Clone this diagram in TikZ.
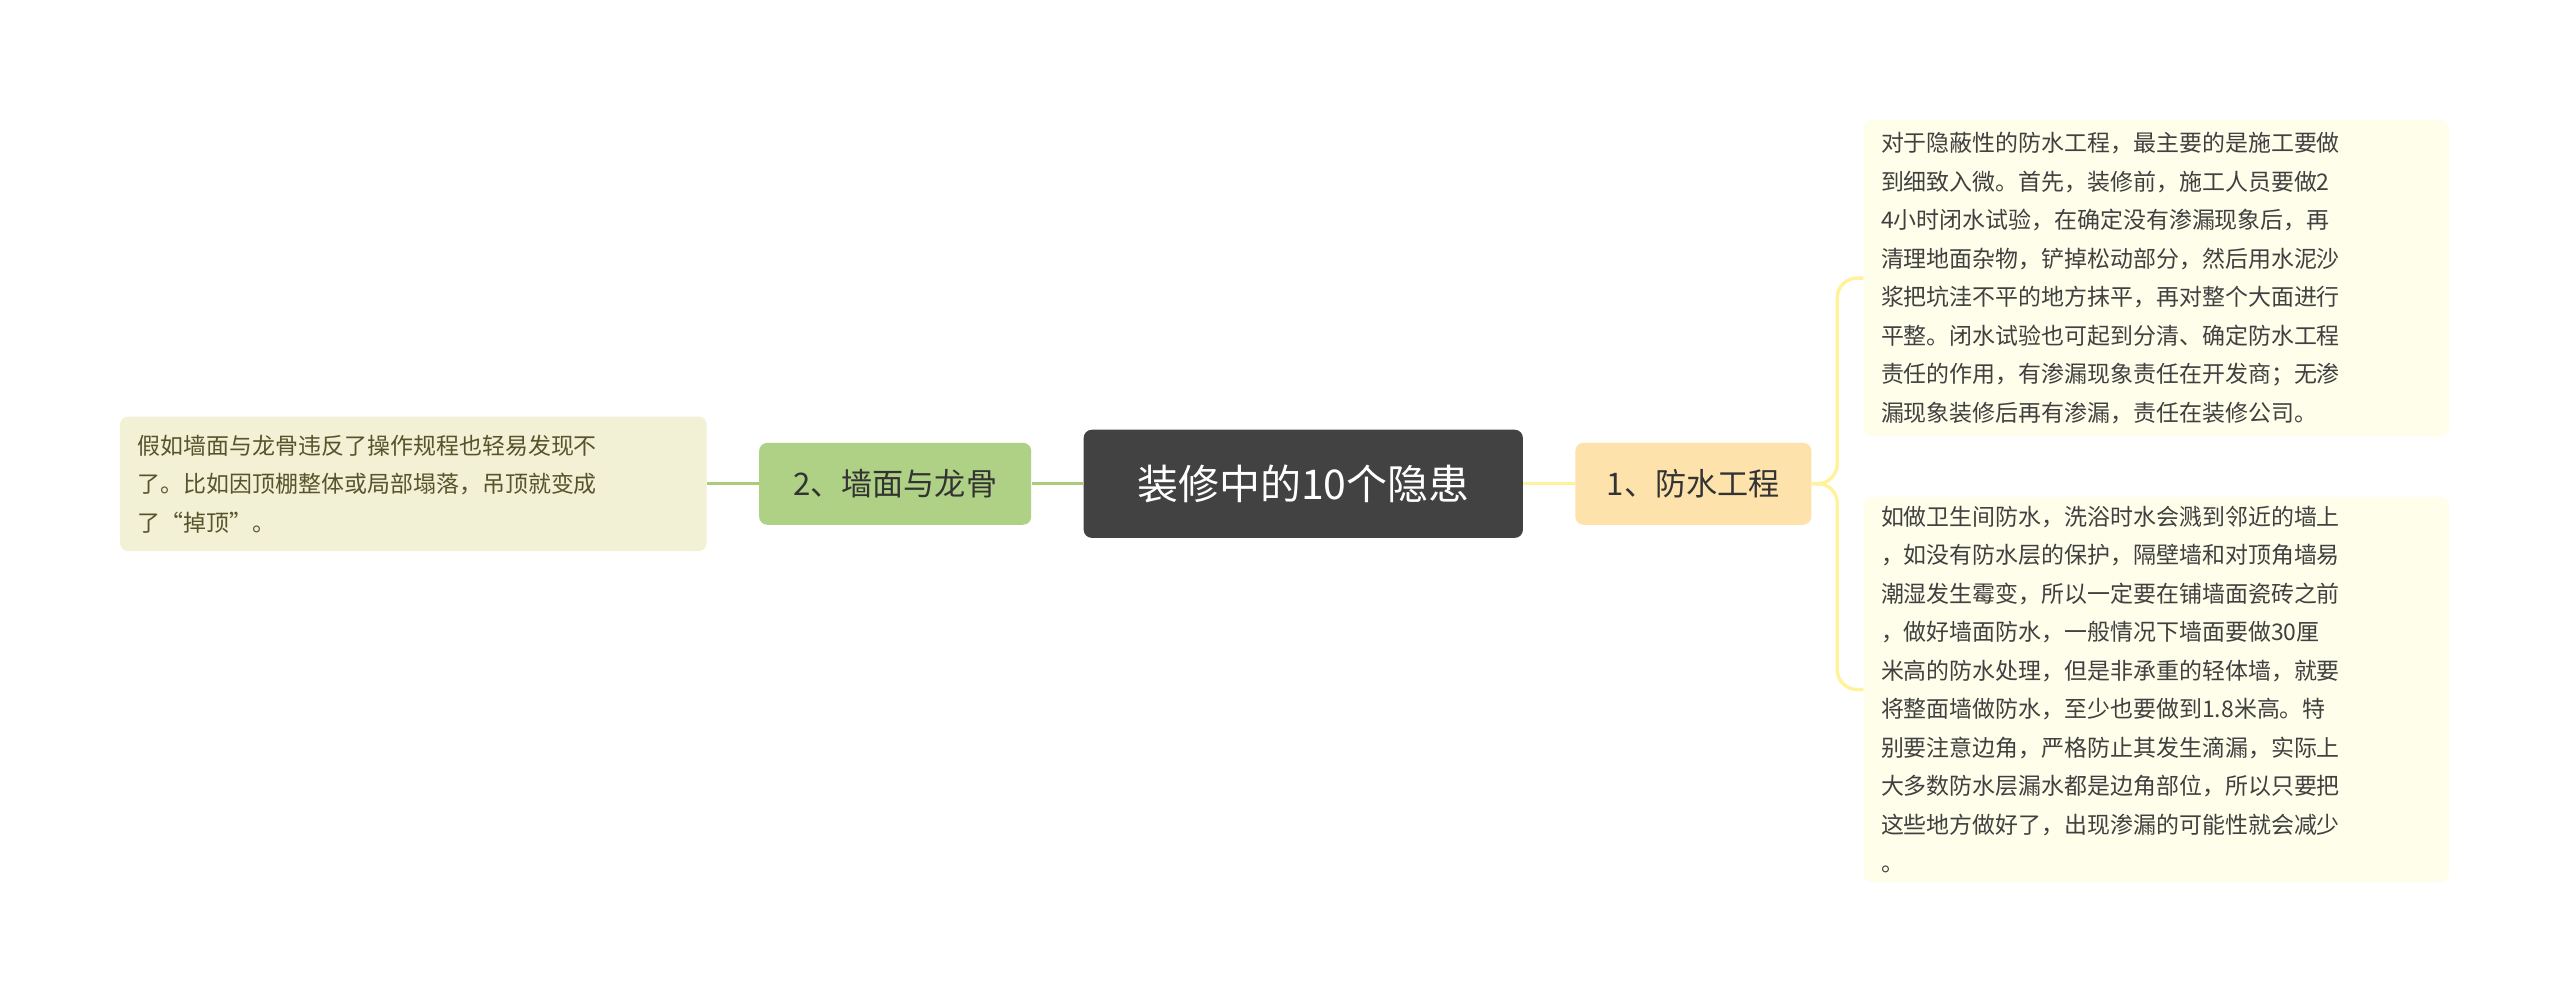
\documentclass[tikz,border=0pt]{standalone}
\usepackage{fontspec}
\setmainfont{Noto Sans CJK SC}
\begin{document}
\begin{tikzpicture}[x=1pt,y=-1pt,
  box/.style={rounded corners=5pt,inner sep=0pt,anchor=north west},
  leaf/.style={box,align=left,font=\fontsize{14}{23.5}\selectfont,text=black!75}]
\useasboundingbox[fill=white] (0,0) rectangle (1562,610);
\node[box,fill=black!74,minimum width=268pt,minimum height=66pt,text=white,font=\fontsize{25}{30}\selectfont] (c) at (661,262) {装修中的10个隐患};
\node[box,fill=yellow!30!orange!30,minimum width=144pt,minimum height=50pt,font=\fontsize{19}{24}\selectfont,text=black!80] (r) at (961,270) {1、防水工程};
\node[box,fill=green!25!black!40!white,fill=olive!45!green!45!white,minimum width=166pt,minimum height=50pt,font=\fontsize{19}{24}\selectfont,text=black!80] (l) at (463,270) {2、墙面与龙骨};
\node[leaf,fill=olive!12,minimum width=358pt,minimum height=82pt,text=olive!50!black] (ll) at (73,254) {\hspace*{9pt}\parbox{345pt}{假如墙面与龙骨违反了操作规程也轻易发现不\\了。比如因顶棚整体或局部塌落，吊顶就变成\\了“掉顶”。}};
\node[leaf,fill=yellow!8,minimum width=357pt,minimum height=193pt] (r1) at (1137,73) {\hspace*{9pt}\parbox{345pt}{对于隐蔽性的防水工程，最主要的是施工要做\\到细致入微。首先，装修前，施工人员要做2\\4小时闭水试验，在确定没有渗漏现象后，再\\清理地面杂物，铲掉松动部分，然后用水泥沙\\浆把坑洼不平的地方抹平，再对整个大面进行\\平整。闭水试验也可起到分清、确定防水工程\\责任的作用，有渗漏现象责任在开发商；无渗\\漏现象装修后再有渗漏，责任在装修公司。}};
\node[leaf,fill=yellow!8,minimum width=357pt,minimum height=235pt] (r2) at (1137,303) {\hspace*{9pt}\parbox{345pt}{如做卫生间防水，洗浴时水会溅到邻近的墙上\\，如没有防水层的保护，隔壁墙和对顶角墙易\\潮湿发生霉变，所以一定要在铺墙面瓷砖之前\\，做好墙面防水，一般情况下墙面要做30厘\\米高的防水处理，但是非承重的轻体墙，就要\\将整面墙做防水，至少也要做到1.8米高。特\\别要注意边角，严格防止其发生滴漏，实际上\\大多数防水层漏水都是边角部位，所以只要把\\这些地方做好了，出现渗漏的可能性就会减少\\。}};
\draw[orange!25!yellow!40,line width=2pt] (c.east) -- (r.west);
\draw[olive!50!green!50!white,line width=2pt] (c.west) -- (l.east);
\draw[olive!50!green!50!white,line width=2pt] (l.west) -- (ll.east);
\draw[orange!25!yellow!40,line width=2pt,rounded corners=12pt] (r.east) -- (1121,295) |- (r1.west);
\draw[orange!25!yellow!40,line width=2pt,rounded corners=12pt] (r.east) -- (1121,295) |- (r2.west);
\end{tikzpicture}
\end{document}
